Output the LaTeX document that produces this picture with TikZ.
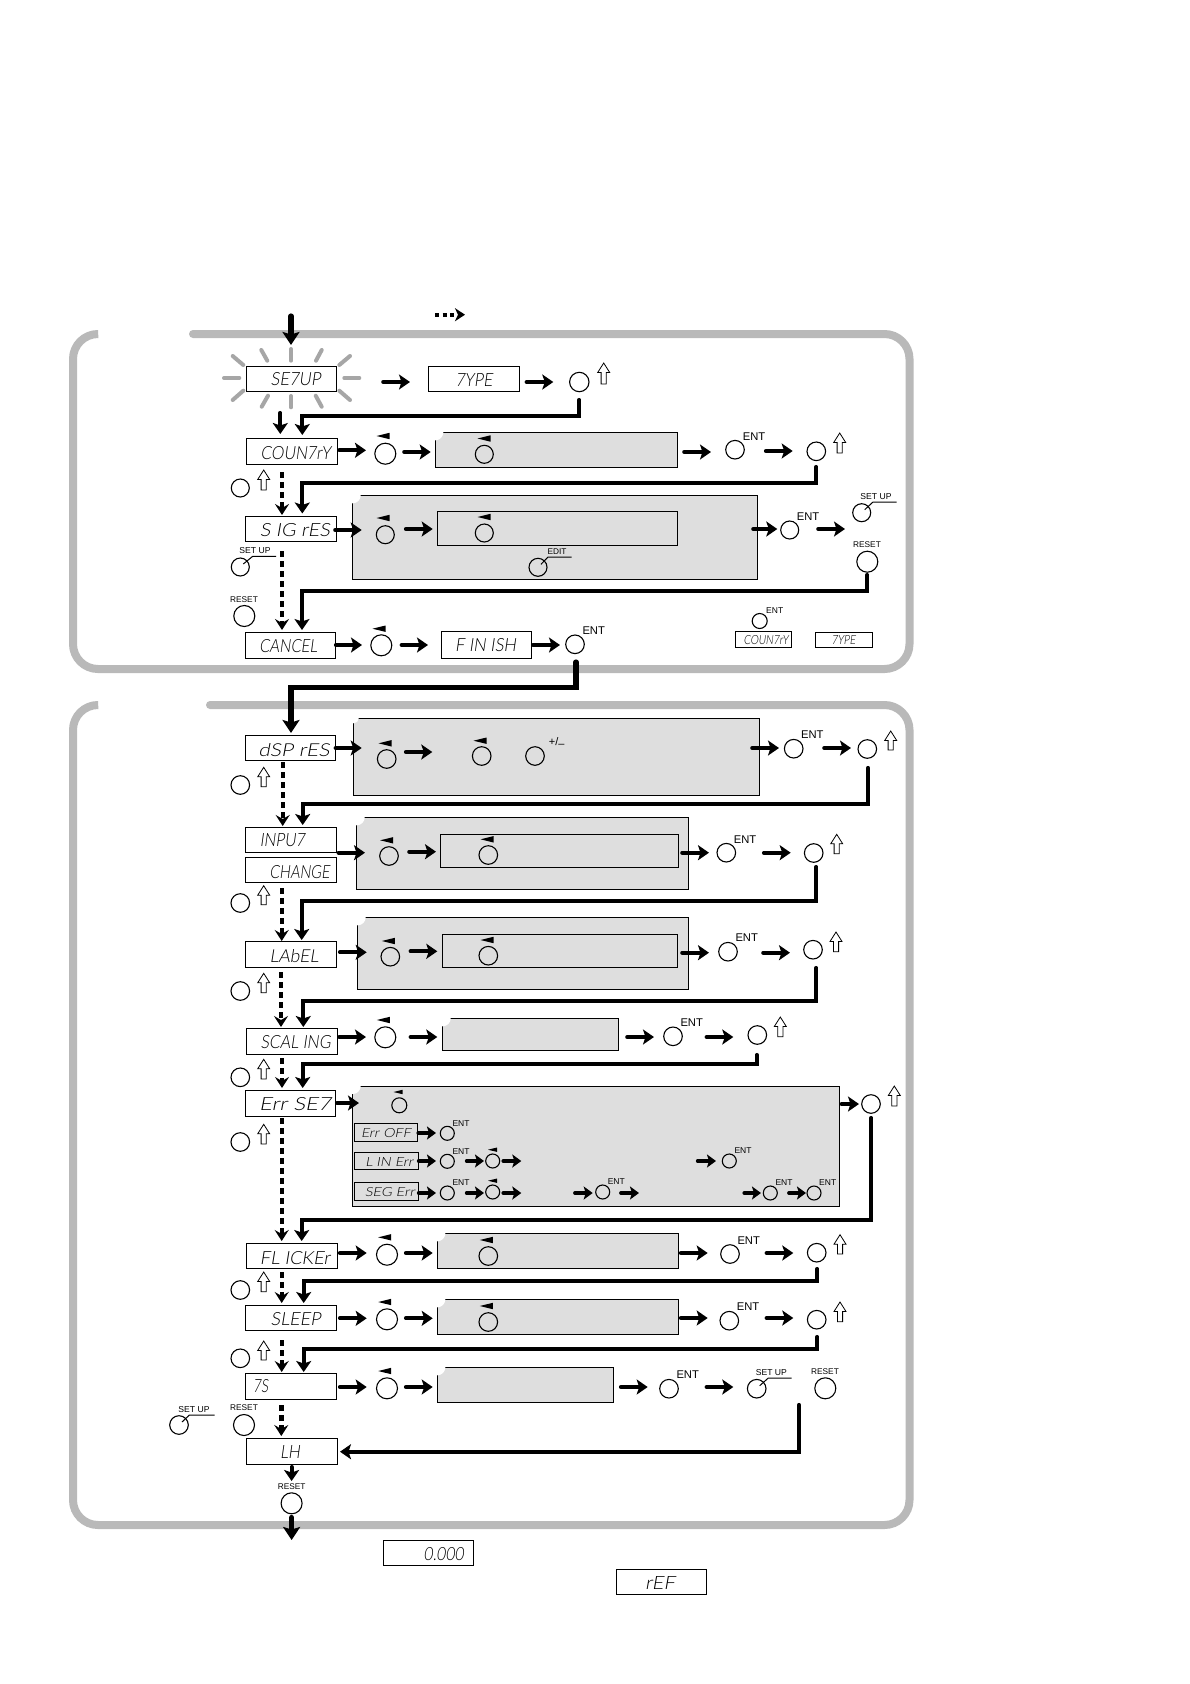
\documentclass[tikz,border=0pt]{standalone}
\usepackage{fontspec}
\usepackage{graphicx}
\setmainfont{Liberation Sans}
\newfontfamily\segf[FakeSlant=0.16]{Lato Light}
\usetikzlibrary{arrows.meta,calc}
\definecolor{boxgray}{HTML}{DEDEDE}
\definecolor{framegray}{HTML}{B9B9B9}
\definecolor{raygray}{HTML}{A6A6A6}
\tikzset{
  dispbox/.style={draw=black,line width=1pt,fill=white,inner sep=0pt,outer sep=0pt,rectangle},
  graybox/.style={draw=black,line width=1pt,fill=boxgray,inner sep=0pt,outer sep=0pt,rectangle},
  btn/.style={circle,draw=black,line width=1.1pt,inner sep=0pt,outer sep=0pt},
  freeend/.style={inner sep=0pt,outer sep=0pt,minimum size=0pt},
  segtext/.style={inner sep=0pt,outer sep=0pt},
  entbig/.style={inner sep=0pt,font=\fontsize{11.2}{12}\selectfont},
  entsmall/.style={inner sep=0pt,font=\fontsize{8.5}{9}\selectfont},
  tinylab/.style={inner sep=0pt,font=\fontsize{8.3}{9}\selectfont},
  suplab/.style={inner sep=0pt,font=\fontsize{8.6}{9}\selectfont},
  signlab/.style={inner sep=0pt,font=\fontsize{11}{12}\selectfont},
  arr/.style={-{Stealth[length=11pt,width=15pt,inset=2.5pt]},line width=4.2pt,line cap=round},
  miniarr/.style={-{Stealth[length=9pt,width=13pt,inset=2pt]},line width=3.8pt,line cap=round},
  elbarr/.style={-{Stealth[length=11pt,width=15pt,inset=2.5pt]},line width=4.2pt,line cap=round,line join=miter},
  bigarr/.style={-{Stealth[length=13pt,width=17pt,inset=2.5pt]},line width=5.2pt,line cap=round,line join=miter},
  dasharr/.style={-{Stealth[length=11pt,width=14pt,inset=4pt]},line width=4.4pt,dash pattern=on 6pt off 4pt},
  framepath/.style={draw=framegray,line width=8pt,rounded corners=25pt,line cap=round},
  ray/.style={draw=raygray,line width=4pt,line cap=round},
  lead/.style={draw=black,line width=1pt},
}
% boxes
\newcommand\bxn[6]{%
  \pgfmathsetmacro\bCX{(#3+#5)/2}\pgfmathsetmacro\bCY{(#4+#6)/2}%
  \pgfmathsetmacro\bW{#5-#3}\pgfmathsetmacro\bH{#6-#4}%
  \node[#1,minimum width=\bW pt,minimum height=\bH pt] (#2) at (\bCX,\bCY) {};}
% grey panel with the nibbled corner
\newcommand\gbx[6][8]{\bxn{graybox}{#2}{#3}{#4}{#5}{#6}\fill[white] (#3,#4) circle[radius=#1];}
% display: name x1 y1 x2 y2 tx ty width text
\newcommand\dsp[9]{\bxn{dispbox}{#1}{#2}{#3}{#4}{#5}\segt{#1-t}{#6}{#7}{#8}{#9}}
\newcommand\segt[5]{\node[segtext,xshift=-1pt] (#1) at (#2,#3) {\resizebox{#4pt}{13pt}{\segf #5}};}
\newcommand\segs[5]{\node[segtext,xshift=-.7pt] (#1) at (#2,#3) {\resizebox{#4pt}{9pt}{\segf #5}};}
\newcommand\cir[4]{\pgfmathsetmacro\cD{2*#4}\node[btn,minimum size=\cD pt] (#1) at (#2,#3) {};}
\newcommand\fre[3]{\node[freeend] (#1) at (#2,#3) {};}
% left-pointing triangle
\newcommand\ltri[2]{\fill (#1-6.5,#2) -- (#1+6.5,#2-3.2) -- (#1+6.5,#2+3.2) -- cycle;}
\newcommand\ltris[2]{\fill (#1-4.5,#2) -- (#1+4.5,#2-2.2) -- (#1+4.5,#2+2.2) -- cycle;}
% hollow up arrow: x ytop ybottom
\newcommand\uar[3]{\draw[line width=.8pt,fill=white,line join=miter] (#1,#2) -- (#1+6,#2+9.5) -- (#1+2.6,#2+9.5) -- (#1+2.6,#3) -- (#1-2.6,#3) -- (#1-2.6,#2+9.5) -- (#1-6,#2+9.5) -- cycle;}
% horizontal connector: [style] from to x1 x2 y
\newcommand\ha[6][arr]{%
  \pgfpointanchor{#2}{east}\pgfgetlastxy\aX\aY
  \pgfpointanchor{#3}{west}\pgfgetlastxy\cX\cY
  \pgfmathsetmacro\sA{#4-\aX}\pgfmathsetmacro\sB{\cX-#5}%
  \draw[#1,shorten <=\sA pt,shorten >=\sB pt] (#2.east |- 0,#6) -- (#3.west |- 0,#6);}
% vertical connector: [style] from to x y1 y2
\newcommand\va[6][arr]{%
  \pgfpointanchor{#2}{south}\pgfgetlastxy\aX\aY
  \pgfpointanchor{#3}{north}\pgfgetlastxy\cX\cY
  \pgfmathsetmacro\sA{#5+\aY}\pgfmathsetmacro\sB{-\cY-#6}%
  \draw[#1,shorten <=\sA pt,shorten >=\sB pt] (#2.south -| #4,0) -- (#3.north -| #4,0);}
% elbow: [style] from xs y1 ym xt to y2
\newcommand\elb[8][elbarr]{%
  \pgfpointanchor{#2}{south}\pgfgetlastxy\aX\aY
  \pgfpointanchor{#7}{north}\pgfgetlastxy\cX\cY
  \pgfmathsetmacro\sA{#4+\aY}\pgfmathsetmacro\sB{-\cY-#8}%
  \draw[#1,shorten <=\sA pt,shorten >=\sB pt] (#2.south -| #3,0) |- (#6,#5) -- (#7.north -| #6,0);}
\begin{document}
\begin{tikzpicture}[x=1pt,y=-1pt]
\useasboundingbox (0,0) rectangle (1190,1684);
\fill[white] (0,0) rectangle (1190,1684);
% frames
\draw[framepath] (97,334) -- (73,334) -- (73,669) -- (909.5,669) -- (909.5,334) -- (193,334);
\draw[framepath] (97,705) -- (73,705) -- (73,1525) -- (909.5,1525) -- (909.5,705) -- (210,705);
% rays round SETUP
\foreach \xa/\ya/\xb/\yb in {224/378/239.3/378,344.3/378/359.3/378,291/349/291/360.7,291/396/291/407.3,261.3/350/267.3/360.7,321.7/350/316/360.7,232.7/356/243.3/365,350/356/339.3/365,232.7/400/243.3/390.7,350/400/339.3/390.7,261.7/406.7/268/395.7,321.7/406.7/315.7/395.7}
  \draw[ray] (\xa,\ya) -- (\xb,\yb);
% ---------- displays upper panel
\dsp{setup}{246}{366}{336.7}{391.7}{296.7}{379.5}{50}{SE7UP}
\dsp{type}{428}{366}{519}{391.7}{475}{380}{37}{7YPE}
\dsp{country}{246}{438}{337.7}{464.7}{296.7}{453}{70}{COUN7rY}
\dsp{sig}{245.3}{516.3}{336.7}{541.7}{296}{530}{70}{S IG rES}
\dsp{cancel}{245.3}{632}{335.7}{658}{289.3}{646}{58}{CANCEL}
\dsp{finish}{441}{631}{531.7}{658}{486.7}{645}{61}{F IN ISH}
% panels upper
\gbx{pC}{435.3}{432.3}{677.7}{467.3}
\gbx{pS}{352.7}{495.3}{757.3}{579.3}
\bxn{graybox}{pSi}{437.3}{511.3}{677.7}{545.7}
% buttons upper
\cir{b0}{579.3}{382}{9.7}\uar{603.7}{363}{384}
\cir{cL}{385.3}{453.7}{10.5}\ltri{383}{436}
\cir{cI}{484.3}{454.3}{9}\ltri{484}{438.5}
\cir{cE}{735}{449.7}{9.3}\node[entbig] (cE-l) at (754,436.3) {ENT};
\cir{cU}{816.3}{451.3}{9.3}\uar{839.7}{433}{453}
\cir{sL}{385.3}{534.7}{9}\ltri{383}{518}
\cir{sI}{484.3}{533}{9}\ltri{484}{517}
\cir{sEd}{538}{567.3}{9}\node[tinylab] (sEd-l) at (557,552) {EDIT};
\draw[lead] ($(sEd.center)+(3,-3)$) -- (548,557) -- (571.7,557);
\cir{sE}{789.7}{530}{9}\node[entbig] (sE-l) at (808,516.7) {ENT};
\cir{sS}{861.7}{512.7}{9}\node[suplab] (sS-l) at (876,496.7) {SET UP};
\draw[lead] ($(sS.center)+(3,-3)$) -- (873,502) -- (896.7,502);
\cir{sR}{867.3}{561.7}{10.5}\node[tinylab] (sR-l) at (867,545) {RESET};
\cir{l1}{240.3}{488}{9}\uar{263.7}{470}{490}
\cir{l2}{240.3}{567}{9}\node[suplab] (l2-l) at (255,550.7) {SET UP};
\draw[lead] ($(l2.center)+(3,-3)$) -- (252.7,556.3) -- (276,556.3);
\cir{l3}{244.3}{616}{10.5}\node[tinylab] (l3-l) at (244,599.7) {RESET};
\cir{nL}{381.3}{645.3}{10.5}\ltri{379}{628.7}
\cir{nE}{575}{644.3}{9.3}\node[entbig] (nE-l) at (593.7,631) {ENT};
% legend
\cir{lgE}{759.7}{621}{7.5}\node[entsmall] (lgE-l) at (774.7,610.3) {ENT};
\bxn{dispbox}{lgC}{735.3}{631}{791.7}{647.7}\segs{lgC-t}{766.7}{640}{45}{COUN7rY}
\bxn{dispbox}{lgT}{815.3}{632}{872.7}{647.7}\segs{lgT-t}{844.3}{640}{24}{7YPE}
% free ends
\fre{top}{291}{314}\fre{dlA}{435}{314.7}\fre{dlB}{465}{314.7}
% connectors upper
\va[bigarr]{top}{setup}{291}{316}{345}
\draw[-{Stealth[length=10pt,width=13pt,inset=3pt]},line width=4.2pt,dash pattern=on 4pt off 3.5pt] (dlA) -- (dlB);
\ha{setup}{type}{383.3}{410}{382}
\ha{type}{b0}{526.7}{553.3}{382}
\va{setup}{country}{280.3}{413}{434}
\elb{b0}{579.3}{400}{416}{302.3}{country}{435}
\ha{country}{cL}{339.3}{366}{450.3}
\ha{cL}{pC}{404.3}{430.7}{452}
\ha{pC}{cE}{684.3}{711}{452}
\ha{cE}{cU}{766}{792.7}{451}
\elb{cU}{816.3}{467}{483}{302.3}{sig}{513.5}
\va[dasharr]{country}{sig}{282}{472}{515}
\ha{sig}{sL}{335.3}{361.7}{530}
\ha{sL}{pSi}{406}{432.7}{529}
\ha{pS}{sE}{753.3}{777.3}{529}
\ha{sE}{sS}{818.3}{845}{529}
\elb{sR}{867.3}{575}{591}{302}{cancel}{630}
\va[dasharr]{sig}{cancel}{282}{551}{630}
\ha{cancel}{nL}{336}{362}{645}
\ha{nL}{finish}{401.7}{428}{645}
\ha{finish}{nE}{533}{560}{645}
% ---------- lower panel displays
\dsp{dsp}{245.3}{735.3}{335.7}{760.7}{295}{750}{71}{dSP rES}
\dsp{input}{245.3}{827.3}{336.7}{852.7}{283.3}{840.5}{45}{INPU7}
\dsp{change}{245.3}{857.3}{336.7}{882.7}{300.7}{872}{60}{CHANGE}
\dsp{label}{245.3}{941.3}{336.7}{967.3}{295}{956}{49}{LAbEL}
\dsp{scal}{246.3}{1028.3}{337.7}{1054.3}{296.7}{1042}{70}{SCAL ING}
\dsp{err}{245.3}{1090.3}{335.7}{1116.3}{296}{1104}{72}{Err SE7}
\dsp{flick}{246.3}{1243.3}{337.7}{1268.3}{296}{1258}{70}{FL ICKEr}
\dsp{sleep}{245.3}{1305.3}{336.7}{1330.3}{296.7}{1319}{50}{SLEEP}
\dsp{ts}{245.3}{1373.3}{336.7}{1399.3}{261.7}{1386}{15}{7S}
\dsp{lh}{246}{1438.3}{337.5}{1464.3}{291}{1451.7}{20}{LH}
\dsp{zero}{383.4}{1540.3}{473.8}{1565.3}{444.7}{1554}{40}{0.000}
\dsp{ref}{616.5}{1569.3}{706.8}{1594.3}{661}{1583}{30}{rEF}
% panels lower
\gbx[5]{pD}{353.7}{718.3}{759.7}{795.3}
\gbx{pI}{356.7}{817.3}{688.7}{889.3}
\bxn{graybox}{pIi}{440.7}{834.3}{678.7}{867.3}
\gbx{pL}{357.7}{917.3}{688.7}{989.3}
\bxn{graybox}{pLi}{442.3}{934.3}{677.7}{967.3}
\gbx{pA}{442.7}{1018.3}{618.7}{1050.3}
\gbx{pE}{352.7}{1086}{839.7}{1206.7}
\gbx{pF}{437.3}{1233.3}{678.7}{1268.3}
\gbx{pP}{437.3}{1299.3}{678.7}{1334.3}
\gbx{pT}{437.3}{1367.3}{613.7}{1402.3}
% dSP
\cir{dL}{386.7}{759}{9.3}\ltri{385}{743.3}
\cir{dM}{481.7}{756}{9.3}\ltri{480}{740.7}
\cir{dP}{535}{756}{9.3}\node[signlab] (dP-l) at (556.7,742.7) {+/\raisebox{-.3ex}{–}};
\cir{dE}{793.7}{748.7}{9.3}\node[entbig] (dE-l) at (812.3,735) {ENT};
\cir{dU}{867.3}{749}{9.3}\uar{890.7}{731}{750}
\cir{ld}{240.3}{785}{9.3}\uar{263.7}{767.3}{786.7}
% INPUT
\cir{iL}{389}{856}{9.3}\ltri{386.7}{840.3}
\cir{iI}{488.3}{855}{9.3}\ltri{487}{839.3}
\cir{iE}{726.3}{852.7}{9.3}\node[entbig] (iE-l) at (745,839.3) {ENT};
\cir{iU}{813.7}{853}{9.3}\uar{836.7}{834.3}{853.7}
\cir{li}{240.3}{903}{9.3}\uar{263.7}{885.7}{904.7}
% LABEL
\cir{aL}{390.3}{956.7}{9.3}\ltri{388.3}{941}
\cir{aI}{488.3}{955.7}{9.3}\ltri{487}{940}
\cir{aE}{728}{951.7}{9.3}\node[entbig] (aE-l) at (746.7,938) {ENT};
\cir{aU}{813}{949.7}{9.3}\uar{836}{932}{951.7}
\cir{la}{240.3}{991}{9.3}\uar{263.7}{973.3}{992.7}
% SCALING
\cir{cnL}{385.3}{1037.3}{10.5}\ltri{383.3}{1020}
\cir{cnE}{673}{1036.3}{9.3}\node[entbig] (cnE-l) at (691.7,1023) {ENT};
\cir{cnU}{757.3}{1035}{9.3}\uar{780.3}{1017}{1036.7}
\cir{lc}{240.3}{1077.3}{9.3}\uar{263.7}{1059.3}{1079}
% Err SET
\cir{eL}{399.3}{1105.3}{7.5}\ltris{398}{1092}
\cir{eU}{871}{1104}{9.3}\uar{894.3}{1086}{1106}
\cir{le}{240.3}{1142}{9.3}\uar{263.7}{1124.3}{1144}
\bxn{graybox}{eo}{354.3}{1123.3}{417.7}{1141.3}\segs{eo-t}{386.7}{1133.5}{50}{Err OFF}
\bxn{graybox}{el}{354.3}{1152.3}{418.7}{1169.3}\segs{el-t}{390}{1161.5}{48}{L IN Err}
\bxn{graybox}{es}{354.3}{1182.3}{418.7}{1200.3}\segs{es-t}{390.5}{1192}{50}{SEG Err}
\cir{o1}{447.3}{1133.3}{7}\node[entsmall] (o1-l) at (461,1123.3) {ENT};
\cir{n1}{447.3}{1161.3}{7}\node[entsmall] (n1-l) at (461,1151.7) {ENT};
\cir{n2}{492.7}{1161}{7}\ltris{492.5}{1149.7}
\cir{n3}{729.3}{1161}{7}\node[entsmall] (n3-l) at (743,1151) {ENT};
\cir{g1}{447.3}{1193}{7}\node[entsmall] (g1-l) at (461,1183) {ENT};
\cir{g2}{492.7}{1192}{7}\ltris{492.5}{1180.7}
\cir{g3}{602.7}{1192}{7}\node[entsmall] (g3-l) at (616.3,1182) {ENT};
\cir{g4}{770.3}{1193}{7}\node[entsmall] (g4-l) at (784,1183) {ENT};
\cir{g5}{814}{1193}{7}\node[entsmall] (g5-l) at (827.7,1183) {ENT};
\fre{fnA}{521.3}{1161}\fre{fnB}{697.7}{1161}
\fre{fgA}{521.3}{1193}\fre{fgB}{575}{1193}\fre{fgC}{639}{1193}\fre{fgD}{744.3}{1193}
% FLICKER
\cir{fL}{387}{1254.7}{10.5}\ltri{384.7}{1237.3}
\cir{fI}{488.3}{1256}{9.3}\ltri{486.3}{1240}
\cir{fE}{730}{1254}{9.3}\node[entbig] (fE-l) at (748.7,1240.3) {ENT};
\cir{fU}{816.7}{1252.7}{9.3}\uar{840}{1234.7}{1254}
\cir{lf}{240.3}{1290}{9.3}\uar{263.7}{1272}{1291.7}
% SLEEP
\cir{pL1}{387}{1319.3}{10.5}\ltri{384.7}{1302}
\cir{pI1}{488.3}{1322}{9.3}\ltri{486.3}{1306}
\cir{pE1}{729.3}{1320.7}{9.3}\node[entbig] (pE1-l) at (748,1307) {ENT};
\cir{pU1}{816.7}{1319.7}{9.3}\uar{840}{1302}{1321.7}
\cir{ls}{240.3}{1358.3}{9.3}\uar{263.7}{1341}{1360}
% 7S
\cir{tL}{387}{1388.3}{10.5}\ltri{384.7}{1371}
\cir{tE}{669}{1388.7}{9.3}\node[entbig] (tE-l) at (687.7,1375) {ENT};
\cir{tS}{756.7}{1388.7}{9.3}\node[suplab] (tS-l) at (771.3,1372.3) {SET UP};
\draw[lead] ($(tS.center)+(3,-3)$) -- (768.3,1378) -- (791.7,1378);
\cir{tR}{825.3}{1388.3}{10.5}\node[tinylab] (tR-l) at (825,1372) {RESET};
\cir{lt1}{179}{1425}{9.3}\node[suplab] (lt1-l) at (194,1409.7) {SET UP};
\draw[lead] ($(lt1.center)+(3,-3)$) -- (189.4,1415) -- (214.7,1415);
\cir{lt2}{244}{1425}{10.5}\node[tinylab] (lt2-l) at (244,1408) {RESET};
\cir{rs}{291.6}{1503.3}{10.5}\node[tinylab] (rs-l) at (291.6,1486.7) {RESET};
\fre{out}{291.6}{1540}\fre{bk}{799}{1405}
% connectors lower
\elb[bigarr]{nE}{576}{662}{687.7}{291}{dsp}{733}
\ha{dsp}{dL}{335.7}{361.7}{748}
\ha{dL}{dM}{406}{432.3}{752}
\ha{pD}{dE}{752.3}{779}{748}
\ha{dE}{dU}{824.3}{851}{748}
\elb{dU}{868}{768}{804.3}{302.7}{input}{825}
\va[dasharr]{dsp}{input}{282.7}{762}{826}
\ha{input}{iL}{338.7}{365}{852.7}
\ha{iL}{pIi}{409.3}{436}{851.7}
\ha{pI}{iE}{682.3}{709}{852.7}
\ha{iE}{iU}{764}{790.7}{852.7}
\elb{iU}{816.3}{867}{901}{301.7}{label}{940}
\va[dasharr]{change}{label}{281.7}{888}{941}
\ha{label}{aL}{340}{366.7}{952.3}
\ha{aL}{pLi}{410.7}{437.3}{951.3}
\ha{pL}{aE}{682.3}{709}{952.7}
\ha{aE}{aU}{763.3}{790}{952.7}
\elb{aU}{816.3}{968}{1000.7}{303.3}{scal}{1027}
\va[dasharr]{label}{scal}{281}{972}{1027}
\ha{scal}{cnL}{339.3}{366}{1037}
\ha{cnL}{pA}{410.7}{437.3}{1037}
\ha{pA}{cnE}{627.3}{654}{1037}
\ha{cnE}{cnU}{706.7}{733.3}{1037}
\elb{cnU}{756.7}{1055}{1064.3}{302.7}{err}{1088}
\va[dasharr]{scal}{err}{282}{1058}{1088}
\ha{err}{pE}{337}{359}{1103}
\ha{pE}{eU}{841.7}{859}{1104}
\ha[miniarr]{eo}{o1}{418.3}{436}{1133}
\ha[miniarr]{el}{n1}{418.7}{436}{1161}
\ha[miniarr]{n1}{n2}{466.7}{484}{1161}
\ha[miniarr]{n2}{fnA}{503.3}{521.3}{1161}
\ha[miniarr]{fnB}{n3}{697.7}{716}{1161}
\ha[miniarr]{es}{g1}{418.7}{436}{1193}
\ha[miniarr]{g1}{g2}{466.7}{484}{1193}
\ha[miniarr]{g2}{fgA}{503.3}{521.3}{1193}
\ha[miniarr]{fgB}{g3}{575}{592.7}{1193}
\ha[miniarr]{g3}{fgC}{621}{639}{1193}
\ha[miniarr]{fgD}{g4}{744.3}{761}{1193}
\ha[miniarr]{g4}{g5}{789}{806}{1193}
\elb{eU}{871.3}{1118}{1220.3}{301.7}{flick}{1241}
\va[dasharr]{err}{flick}{281.7}{1118}{1241}
\ha{flick}{fL}{340}{366.7}{1253}
\ha{fL}{pF}{406}{432.7}{1253}
\ha{pF}{fE}{681}{707.7}{1253}
\ha{fE}{fU}{766.7}{793.3}{1253}
\elb{fU}{817.3}{1269}{1281}{303.7}{sleep}{1303}
\va[dasharr]{flick}{sleep}{281.7}{1272}{1303}
\ha{sleep}{pL1}{340}{366.7}{1318.3}
\ha{pL1}{pP}{406}{432.7}{1318.3}
\ha{pP}{pE1}{681}{707.7}{1318}
\ha{pE1}{pU1}{766.7}{793.3}{1318}
\elb{pU1}{817.3}{1337}{1348.7}{303.7}{ts}{1372}
\va[dasharr]{sleep}{ts}{281.7}{1340}{1372}
\ha{ts}{tL}{340}{366.7}{1387}
\ha{tL}{pT}{406}{432.7}{1387}
\ha{pT}{tE}{621}{647.7}{1387}
\ha{tE}{tS}{706.7}{733.3}{1387}
\va[dasharr]{ts}{lh}{281.3}{1405}{1436}
\draw[elbarr,shorten >=2.5pt] (bk) |- (lh.east |- 0,1451.7);
\va[arr]{lh}{rs}{291.6}{1467}{1481}
\va[bigarr]{rs}{out}{291.6}{1517.5}{1540}
\end{tikzpicture}
\end{document}
